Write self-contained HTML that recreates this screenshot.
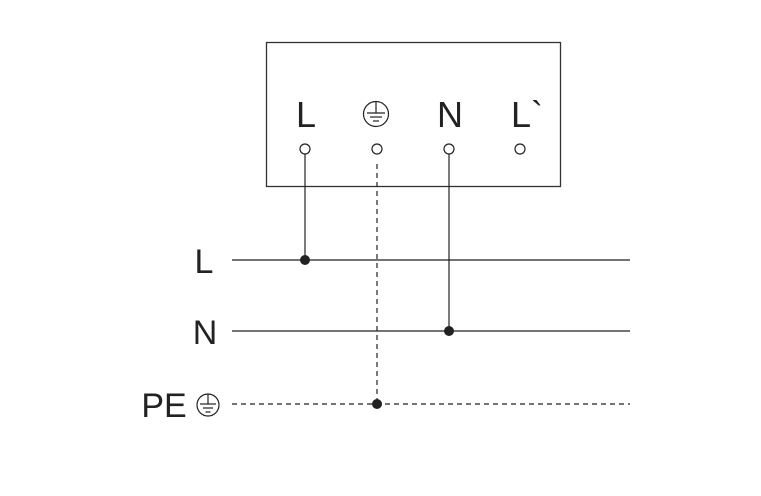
<!DOCTYPE html>
<html><head><style>body{margin:0;background:#fff}</style></head><body>
<svg width="761" height="491" viewBox="0 0 761 491" xmlns="http://www.w3.org/2000/svg" font-family="Liberation Sans, sans-serif" fill="#222">
<rect x="266.5" y="42.5" width="294" height="144" fill="none" stroke="#333" stroke-width="1.3"/>
<text x="306" y="127" font-size="36" text-anchor="middle">L</text>
<text x="450" y="127" font-size="36" text-anchor="middle">N</text>
<text x="527" y="127" font-size="36" text-anchor="middle">L`</text>
<g fill="none" stroke="#222" stroke-width="1.2">
<circle cx="376" cy="114" r="12.5"/>
<line x1="376" y1="102" x2="376" y2="113"/><line x1="367" y1="113" x2="385" y2="113"/><line x1="370" y1="117" x2="382" y2="117"/><line x1="373" y1="121" x2="379" y2="121"/>
<circle cx="208" cy="405" r="11"/>
<line x1="208" y1="394" x2="208" y2="404"/><line x1="200" y1="404" x2="216" y2="404"/><line x1="203" y1="408" x2="213" y2="408"/><line x1="205.5" y1="412" x2="210.5" y2="412"/>
<circle cx="305" cy="149" r="5"/><circle cx="377" cy="149" r="5"/><circle cx="449" cy="149" r="5"/><circle cx="520" cy="149" r="5"/>
<line x1="305" y1="154" x2="305" y2="260"/><line x1="449" y1="154" x2="449" y2="331"/>
<line x1="377" y1="164" x2="377" y2="404" stroke-dasharray="5,4"/>
<line x1="232" y1="260" x2="630" y2="260"/><line x1="232" y1="331" x2="630" y2="331"/>
<line x1="232" y1="404" x2="630" y2="404" stroke-dasharray="5,4"/>
</g>
<circle cx="305" cy="260" r="5"/><circle cx="449" cy="331" r="5"/><circle cx="377" cy="404" r="5"/>
<text x="204" y="273" font-size="34" text-anchor="middle">L</text>
<text x="205" y="344" font-size="34" text-anchor="middle">N</text>
<text x="164" y="417" font-size="34" text-anchor="middle">PE</text>
</svg>
</body></html>
